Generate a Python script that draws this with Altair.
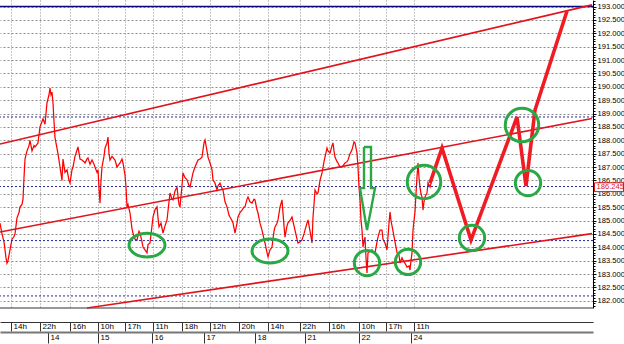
import altair as alt
import pandas as pd

# ---------------- data ----------------
px = [0,2,4,6,7,8,10,12,14,15,17,19,20,22,23,24,25,27,29,30,32,34,35,37,38,40,42,43,45,47,49,50,51,52,53,54,55,57,58,60,62,63,65,67,69,70,72,73,75,78,80,82,84,85,87,88,90,92,94,95,97,98,99,100,101,102,104,105,107,108,109,110,112,115,117,120,122,123,125,126,127,128,130,132,133,135,137,139,140,142,143,145,147,148,150,152,153,155,157,158,159,161,163,165,167,169,170,172,173,175,177,179,180,182,183,185,187,189,190,192,193,195,198,200,202,204,205,207,208,210,212,213,215,217,218,220,222,223,225,227,229,230,232,233,235,237,238,240,242,244,245,247,248,250,252,254,255,257,258,260,262,264,265,267,268,270,272,274,275,277,278,280,282,284,285,287,288,290,292,294,295,297,298,300,302,304,305,307,308,310,312,313,314,315,317,318,320,322,324,325,327,328,330,332,333,334,335,337,338,340,342,344,345,347,348,350,352,354,355,357,358,359,360,361,362,363,364,365,366,367,368,370,372,374,375,377,378,380,382,383,385,387,389,390,391,393,395,397,399,400,402,403,405,407,409,410,411,412,413,414,415,416,417,418,419,420,421,422,423,424,425,427,428,430,432]
pp = [184.9,184.5,184.2,183.6,183.4,183.5,183.9,184.3,184.4,184.5,185.1,185.3,185.5,185.6,185.8,186.6,187.3,187.6,187.8,188.0,187.6,187.8,187.75,187.85,187.9,188.5,188.7,188.8,188.6,189.4,189.7,189.95,189.7,189.8,189.4,188.7,188.1,187.7,187.5,187.0,186.5,187.3,186.8,186.9,186.5,186.4,186.9,187.0,187.4,187.75,187.3,187.26,187.2,187.15,187.3,187.34,187.1,187.26,187.1,187.0,186.8,186.89,186.2,185.65,186.5,187.0,187.4,187.7,187.9,188.12,187.5,187.26,187.4,187.26,187.0,187.15,187.3,187.15,186.7,186.25,185.5,185.6,185.28,184.7,184.53,184.3,184.27,184.6,184.53,184.2,184.01,183.9,183.79,184.1,184.16,184.8,185.13,185.4,185.51,185.1,184.76,184.9,184.53,184.8,185.02,185.7,186.03,185.8,185.77,186.1,186.25,185.6,185.51,186.3,186.78,186.6,186.52,186.3,186.25,186.6,186.78,187.0,187.26,187.3,187.37,187.9,188.01,187.6,187.37,187.15,186.9,186.52,186.4,186.14,186.3,186.4,186.2,186.14,185.7,185.51,185.2,185.13,185.0,184.91,184.53,184.9,185.13,185.3,185.39,185.5,185.51,185.8,185.88,185.7,185.65,185.8,185.77,185.4,185.28,184.9,184.64,184.3,184.16,183.8,183.64,183.9,184.01,184.6,184.76,184.9,185.02,185.5,185.77,184.8,184.38,184.8,184.91,185.0,185.13,184.8,184.64,184.3,184.16,184.2,184.27,184.5,184.64,184.9,185.02,184.6,184.16,185.13,185.6,186.14,186.0,186.03,186.5,186.78,187.2,187.37,187.71,187.6,187.52,187.8,187.9,187.6,187.37,187.2,187.15,187.0,187.0,187.1,187.15,187.2,187.26,187.5,187.64,187.94,187.9,187.52,187.0,186.25,185.8,185.0,184.64,184.01,184.2,184.38,183.6,183.04,183.79,183.85,183.9,183.8,183.79,184.2,184.38,184.64,184.64,184.3,184.16,183.9,184.9,185.32,185.0,184.6,184.2,183.8,183.7,183.41,183.6,183.52,183.4,183.26,183.3,183.15,183.5,183.79,184.64,185.0,185.32,186.0,186.63,187.15,186.6,186.25,186.0,185.88,185.39,185.7,185.88,186.03,186.4,186.25,186.52]

# channel lines (start bar, start price, end bar, end price)
ch_x1 = [0, 0, 87]
ch_p1 = [187.86, 184.57, 181.73]
ch_x2 = [592, 592, 592]
ch_p2 = [193.06, 188.81, 184.51]

# projected path
proj_x = [430, 442, 471, 517, 526, 535, 567]
proj_p = [186.40, 187.71, 184.27, 188.87, 186.29, 189.13, 192.83]

# green marks
ann_x = [147, 270, 367, 408, 424, 472, 528, 522]
ann_p = [184.08, 183.86, 183.41, 183.45, 186.44, 184.35, 186.40, 188.57]
ann_kind = ["oval", "oval", "small", "small", "large", "small", "small", "large"]

# green down arrow outline
arr_x = [364, 371, 371, 375, 367, 360, 364, 364]
arr_p = [187.75, 187.75, 186.21, 186.21, 184.64, 186.21, 186.21, 187.75]

# horizontal levels
blue_dotted = [188.87, 186.27, 184.25, 182.18]
top_level = [193.0]
last_price = [186.245]

# axis ticks
hour_pos = [11, 40, 70, 98, 125, 153, 182, 210, 239, 268, 300, 329, 359, 386, 414]
hour_lab = ["14h","22h","16h","10h","17h","11h","18h","12h","20h","14h","22h","16h","10h","17h","11h"]
day_pos = [-3, 48, 98, 152, 204, 255, 305, 359, 411]
day_lab = ["11","14","15","16","17","18","21","22","24"]
y_major = [round(182.0 + 0.5 * i, 1) for i in range(23)]
y_minor = [round(181.8 + 0.1 * i, 1) for i in range(115)]

# ---------------- chart ----------------
W, H = 593, 308
FONT = "Liberation Sans"
xs = alt.Scale(domain=[0, 593], nice=False, zero=False)
ys = alt.Scale(domain=[181.729, 193.243], nice=False, zero=False)

def lab_expr(pos, lab):
    return "[" + ",".join("'%s'" % l for l in lab) + "][indexof([" + ",".join(str(p) for p in pos) + "], datum.value)]"

x_hour_axis = alt.Axis(values=hour_pos, labelExpr=lab_expr(hour_pos, hour_lab), orient="bottom",
                       offset=14, grid=True, gridDash=[1, 2], gridColor="#8c8c8c", gridWidth=1,
                       tickSize=9, tickColor="#333333", domainColor="#333333", labelAlign="left",
                       labelOffset=2, labelPadding=-4.5, labelBaseline="middle", labelFontSize=8,
                       labelFont=FONT, labelColor="#000000", labelOverlap=False, labelFlush=False,
                       labelBound=False, title=None)
x_day_axis = alt.Axis(values=day_pos, labelExpr=lab_expr(day_pos, day_lab), orient="bottom",
                      offset=24, grid=False, tickSize=11, tickColor="#333333", domainColor="#777777",
                      domainWidth=2, labelAlign="left", labelOffset=2, labelPadding=-5.5,
                      labelBaseline="middle", labelFontSize=8, labelFont=FONT, labelColor="#000000",
                      labelOverlap=False, labelFlush=False, labelBound=False, title=None)
y_axis = alt.Axis(values=y_major, orient="right", format=".3f", tickSize=3,
                  grid=True, gridDash=[2, 2], gridColor="#8c8c8c",
                  domainColor="#000000", tickColor="#000000", labelFontSize=7.6, labelFont=FONT,
                  labelColor="#000000", labelPadding=1, labelOverlap=False, labelFlush=False,
                  labelBound=False, title=None)
y_minor_axis = alt.Axis(values=y_minor, orient="right", labels=False, tickSize=2, grid=False,
                        domain=False, tickColor="#000000", title=None)

NOAX = None

price_df = pd.DataFrame({"x": px, "p": pp})
price = alt.Chart(price_df).mark_line(color="#ff0000", strokeWidth=1.25).encode(
    x=alt.X("x:Q", scale=xs, axis=x_hour_axis),
    y=alt.Y("p:Q", scale=ys, axis=y_axis),
)

day_axis_layer = alt.Chart(pd.DataFrame({"x": day_pos[1:]})).mark_point(opacity=0).encode(
    x=alt.X("x:Q", scale=xs, axis=x_day_axis),
)
minor_axis_layer = alt.Chart(pd.DataFrame({"p": y_major})).mark_point(opacity=0).encode(
    y=alt.Y("p:Q", scale=ys, axis=y_minor_axis),
)

bottom_rule = alt.Chart(pd.DataFrame({"p": [181.729]})).mark_rule(color="#333333", strokeWidth=1).encode(
    y=alt.Y("p:Q", scale=ys, axis=NOAX))

blue_lines = alt.Chart(pd.DataFrame({"p": blue_dotted})).mark_rule(
    color="#2a2a9a", strokeDash=[2, 2], strokeWidth=1).encode(y=alt.Y("p:Q", scale=ys, axis=NOAX))
top_line = alt.Chart(pd.DataFrame({"p": top_level})).mark_rule(
    color="#0a0a80", strokeWidth=1.6).encode(y=alt.Y("p:Q", scale=ys, axis=NOAX))

chan_df = pd.DataFrame({"x1": ch_x1, "p1": ch_p1, "x2": ch_x2, "p2": ch_p2})
channels = alt.Chart(chan_df).mark_rule(color="#e0141c", strokeWidth=1.6).encode(
    x=alt.X("x1:Q", scale=xs, axis=NOAX), y=alt.Y("p1:Q", scale=ys, axis=NOAX), x2="x2:Q", y2="p2:Q")

proj_df = pd.DataFrame({"x": proj_x, "p": proj_p, "o": list(range(len(proj_x)))})
proj = alt.Chart(proj_df).mark_line(color="#f01c24", strokeWidth=3.6, strokeJoin="miter").encode(
    x=alt.X("x:Q", scale=xs, axis=NOAX), y=alt.Y("p:Q", scale=ys, axis=NOAX), order="o:Q")

ann_df = pd.DataFrame({"x": ann_x, "p": ann_p, "k": ann_kind})
GREEN = "#2aa845"
ovals = alt.Chart(ann_df).transform_filter("datum.k == 'oval'").mark_point(
    shape="M -1 0 A 1 0.66 0 1 0 1 0 A 1 0.66 0 1 0 -1 0 Z", size=1296, filled=False,
    color=GREEN, strokeWidth=3, opacity=1).encode(
    x=alt.X("x:Q", scale=xs, axis=NOAX), y=alt.Y("p:Q", scale=ys, axis=NOAX))
circles = alt.Chart(ann_df).transform_filter("datum.k != 'oval'").mark_point(
    shape="circle", filled=False, color=GREEN, strokeWidth=3, opacity=1).encode(
    x=alt.X("x:Q", scale=xs, axis=NOAX), y=alt.Y("p:Q", scale=ys, axis=NOAX),
    size=alt.Size("k:O", scale=alt.Scale(domain=["small", "large"], range=[640, 1120]), legend=None))

arr_df = pd.DataFrame({"x": arr_x, "p": arr_p, "o": list(range(len(arr_x)))})
arrow = alt.Chart(arr_df).mark_line(color=GREEN, strokeWidth=2.4, strokeJoin="miter").encode(
    x=alt.X("x:Q", scale=xs, axis=NOAX), y=alt.Y("p:Q", scale=ys, axis=NOAX), order="o:Q")

lp_df = pd.DataFrame({"p": last_price})
lp_box = alt.Chart(lp_df).transform_calculate(lo="datum.p - 0.165", hi="datum.p + 0.165").mark_rect(
    fill="#ffffff", stroke="#e0141c", strokeWidth=1).encode(
    x=alt.value(594.5), x2=alt.value(623.5), y=alt.Y("lo:Q", scale=ys, axis=NOAX), y2="hi:Q")
lp_text = alt.Chart(lp_df).mark_text(align="left", baseline="middle", font=FONT, fontSize=7.6,
                                      color="#e0141c").encode(
    x=alt.value(596.5), y=alt.Y("p:Q", scale=ys, axis=NOAX), text=alt.Text("p:Q", format=".3f"))

chart = alt.layer(
    price, day_axis_layer, minor_axis_layer, bottom_rule, blue_lines, top_line, channels, proj,
    ovals, circles, arrow, lp_box, lp_text
).resolve_axis(x="independent", y="independent").properties(
    width=W, height=H, autosize=alt.AutoSizeParams(type="none"),
    padding={"left": 0, "top": 0, "right": 624 - W, "bottom": 344 - H},
    background="#ffffff"
).configure_view(stroke=None)

chart.save("out.html", embed_options={"renderer": "svg", "actions": False})
